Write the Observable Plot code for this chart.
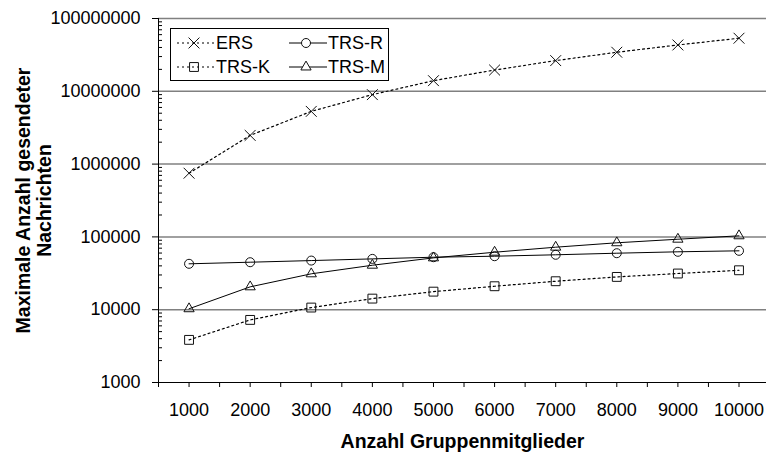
<!DOCTYPE html>
<html><head><meta charset="utf-8">
<script src="https://cdn.jsdelivr.net/npm/d3@7"></script>
<script src="https://cdn.jsdelivr.net/npm/@observablehq/plot@0.6"></script>
<style>
body{margin:0;background:#fff;}
#wrap{position:relative;width:766px;height:455px;font-family:"Liberation Sans",Arial,sans-serif;}
#wrap svg g[aria-label="y-axis label"] text, #wrap svg g[aria-label="x-axis label"] text{font-weight:bold;font-size:19.5px;}
#legend{position:absolute;left:170px;top:28px;width:219px;height:53px;border:1px solid #000;background:#fff;box-sizing:border-box;font-size:18px;}
.item{position:absolute;display:flex;align-items:center;height:24px;}
.item svg{display:block;}
.item span{margin-left:0px;}
</style></head>
<body><div id="wrap"></div>
<script>
const groupSizes = [1000, 2000, 3000, 4000, 5000, 6000, 7000, 8000, 9000, 10000];
const ers  = [750000, 2480000, 5300000, 9000000, 14000000, 19600000, 26400000, 34400000, 43300000, 53600000];
const trsR = [42700, 44900, 47300, 49900, 52600, 54300, 56800, 59700, 62400, 64400];
const trsK = [3850, 7240, 10700, 14200, 17700, 21000, 24600, 28200, 31400, 34800];
const trsM = [10300, 20600, 31100, 40800, 51500, 61600, 72200, 83000, 92900, 103500];
const seriesNames = ["ERS", "TRS-R", "TRS-K", "TRS-M"];
const yMajor = [1000, 10000, 100000, 1000000, 10000000, 100000000];
const xTicks = d3.range(500, 10501, 500);
const xDomain = [500, 10450];
const yDomain = [1000, 100000000];
const yTitle = "Maximale Anzahl gesendeter\nNachrichten";
const xTitle = "Anzahl Gruppenmitglieder";

const valuesByName = {"ERS": ers, "TRS-R": trsR, "TRS-K": trsK, "TRS-M": trsM};
const styleByName = {
  "ERS":   {symbol: "times",    dash: "2,3", r: 5},
  "TRS-R": {symbol: "circle",   dash: null,  r: 4.5},
  "TRS-K": {symbol: "square",   dash: "2,3", r: 5},
  "TRS-M": {symbol: "triangle", dash: null,  r: 3.8}
};
const table = seriesNames.flatMap(s => groupSizes.map((g, i) => ({series: s, x: g, y: valuesByName[s][i]})));

const yMinor = [];
for (let i = 0; i < yMajor.length - 1; i++) for (let k = 2; k <= 9; k++) yMinor.push(yMajor[i] * k);

const seriesMarks = seriesNames.flatMap(s => {
  const st = styleByName[s];
  const data = table.filter(d => d.series === s);
  return [
    Plot.line(data, {x: "x", y: "y", stroke: "#000", strokeWidth: st.dash ? 1.2 : 1, strokeDasharray: st.dash || undefined}),
    Plot.dot(data, {x: "x", y: "y", symbol: () => st.symbol, r: st.r, stroke: "#111", fill: "none", strokeWidth: 1})
  ];
});

const chart = Plot.plot({
  width: 766, height: 455,
  marginLeft: 158, marginRight: 0, marginTop: 18, marginBottom: 73,
  style: {fontFamily: '"Liberation Sans", Arial, sans-serif', fontSize: "18px", color: "#000", background: "#fff", overflow: "visible"},
  x: {type: "linear", domain: xDomain},
  y: {type: "log", domain: yDomain},
  symbol: {type: "identity"},
  marks: [
    Plot.ruleY(yMajor.slice(1), {stroke: "#808080", strokeWidth: 1.5}),
    Plot.axisY({ticks: yMajor, tickFormat: d => String(d), tickSize: 6, tickPadding: 12, label: yTitle, labelAnchor: "center", labelOffset: 142, labelArrow: "none"}),
    Plot.axisY({ticks: yMinor, tickSize: 4, dx: 4, tickFormat: () => "", label: null}),
    Plot.axisX({ticks: xTicks, tickFormat: d => d % 1000 === 0 ? String(d) : "", tickSize: 5, tickPadding: 16, label: xTitle, labelAnchor: "center", labelOffset: 65, labelArrow: "none"}),
    Plot.ruleX([xDomain[0]], {stroke: "#000"}),
    Plot.ruleY([yDomain[0]], {stroke: "#000"}),
    ...seriesMarks
  ]
});
const wrap = document.getElementById("wrap");
wrap.appendChild(chart);
// widen line spacing of the two-line y title
chart.querySelectorAll('g[aria-label="y-axis label"] text tspan').forEach((t, i) => {
  if (i > 0) t.setAttribute("dy", "1.08em");
});

// legend
const legend = document.createElement("div");
legend.id = "legend";
const legendPos = {"ERS": [5, 2], "TRS-R": [117, 2], "TRS-K": [5, 26], "TRS-M": [117, 26]};
seriesNames.forEach(s => {
  const st = styleByName[s];
  const item = document.createElement("div");
  item.className = "item";
  item.style.left = legendPos[s][0] + "px";
  item.style.top = legendPos[s][1] + "px";
  const sym = {times: d3.symbolTimes, circle: d3.symbolCircle, square: d3.symbolSquare, triangle: d3.symbolTriangle}[st.symbol];
  const path = d3.symbol(sym, st.r * st.r * Math.PI)();
  item.innerHTML = `<svg width="40" height="24"><line x1="1" x2="39" y1="12" y2="12" stroke="#000" stroke-width="${st.dash ? 1.2 : 1}" ${st.dash ? `stroke-dasharray="${st.dash}"` : ""}/><path d="${path}" transform="translate(18,12)" fill="${st.dash ? 'none' : '#fff'}" stroke="#111"/></svg><span>${s}</span>`;
  legend.appendChild(item);
});
wrap.appendChild(legend);
</script>
</body></html>
